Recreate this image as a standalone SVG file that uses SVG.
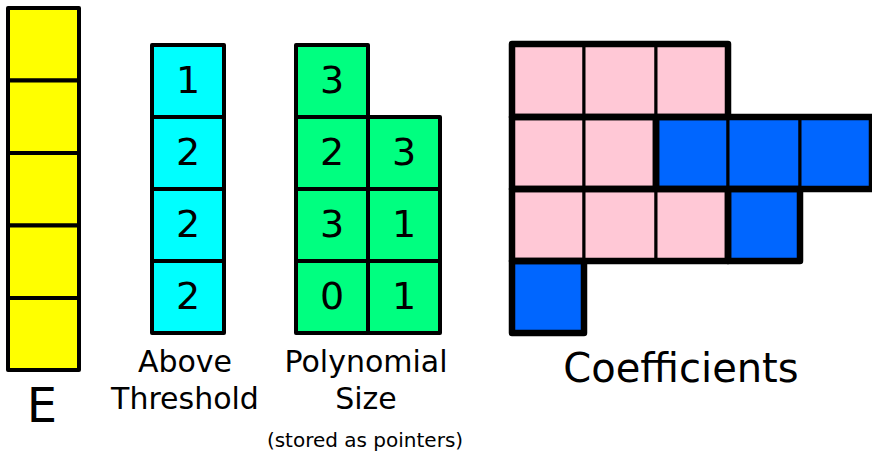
<svg xmlns="http://www.w3.org/2000/svg" width="872" height="452" viewBox="0 0 872 452">
<style>
.c{stroke:#000;stroke-width:4;stroke-linejoin:round}
.t{stroke:#000;stroke-width:3}
.k{fill:none;stroke:#000;stroke-width:6.5;stroke-linejoin:round}
.y{fill:#ffff00}.cy{fill:#00ffff}.g{fill:#00ff80}.p{fill:#ffc8d6}.b{fill:#0066ff}
.n{font-family:"DejaVu Sans",sans-serif;font-size:38px;text-anchor:middle;fill:#000}
.l{font-family:"DejaVu Sans",sans-serif;font-size:30px;text-anchor:middle;fill:#000}
</style>
<rect width="872" height="452" fill="#fff"/>
<g id="E">
<rect class="c y" x="8" y="8" width="71" height="72.5"/>
<rect class="c y" x="8" y="80.5" width="71" height="72.5"/>
<rect class="c y" x="8" y="153" width="71" height="72.5"/>
<rect class="c y" x="8" y="225.5" width="71" height="72.5"/>
<rect class="c y" x="8" y="298" width="71" height="72"/>
<text class="l" x="42" y="422" style="font-size:48px">E</text>
</g>
<g id="above">
<rect class="c cy" x="152" y="45" width="72" height="72"/>
<rect class="c cy" x="152" y="117" width="72" height="72"/>
<rect class="c cy" x="152" y="189" width="72" height="72"/>
<rect class="c cy" x="152" y="261" width="72" height="72"/>
<text class="n" x="188" y="93">1</text>
<text class="n" x="188" y="165">2</text>
<text class="n" x="188" y="237">2</text>
<text class="n" x="188" y="309">2</text>
<text class="l" x="185" y="372">Above</text>
<text class="l" x="185" y="409">Threshold</text>
</g>
<g id="poly">
<rect class="c g" x="296" y="45" width="72" height="72"/>
<rect class="c g" x="296" y="117" width="72" height="72"/>
<rect class="c g" x="296" y="189" width="72" height="72"/>
<rect class="c g" x="296" y="261" width="72" height="72"/>
<rect class="c g" x="368" y="117" width="72" height="72"/>
<rect class="c g" x="368" y="189" width="72" height="72"/>
<rect class="c g" x="368" y="261" width="72" height="72"/>
<text class="n" x="332" y="93">3</text>
<text class="n" x="332" y="165">2</text>
<text class="n" x="332" y="237">3</text>
<text class="n" x="332" y="309">0</text>
<text class="n" x="404" y="165">3</text>
<text class="n" x="404" y="237">1</text>
<text class="n" x="404" y="309">1</text>
<text class="l" x="366" y="372">Polynomial</text>
<text class="l" x="366" y="409">Size</text>
<text class="l" x="365" y="447" style="font-size:20px">(stored as pointers)</text>
</g>
<g id="coef">
<rect class="t p" x="512" y="44" width="72" height="73"/>
<rect class="t p" x="584" y="44" width="72" height="73"/>
<rect class="t p" x="656" y="44" width="72" height="73"/>
<rect class="t p" x="512" y="117" width="72" height="72"/>
<rect class="t p" x="584" y="117" width="72" height="72"/>
<rect class="t b" x="656" y="117" width="72" height="72"/>
<rect class="t b" x="728" y="117" width="72" height="72"/>
<rect class="t b" x="800" y="117" width="72" height="72"/>
<rect class="t p" x="512" y="189" width="72" height="72"/>
<rect class="t p" x="584" y="189" width="72" height="72"/>
<rect class="t p" x="656" y="189" width="72" height="72"/>
<rect class="t b" x="728" y="189" width="72" height="72"/>
<rect class="t b" x="512" y="261" width="72" height="72"/>
<rect class="k" x="512" y="44" width="216" height="73"/>
<rect class="k" x="512" y="117" width="144" height="72"/>
<rect class="k" x="656" y="117" width="216" height="72"/>
<rect class="k" x="512" y="189" width="216" height="72"/>
<rect class="k" x="728" y="189" width="72" height="72"/>
<rect class="k" x="512" y="261" width="72" height="72"/>
<text class="l" x="681" y="382" style="font-size:40px">Coefficients</text>
</g>
</svg>
